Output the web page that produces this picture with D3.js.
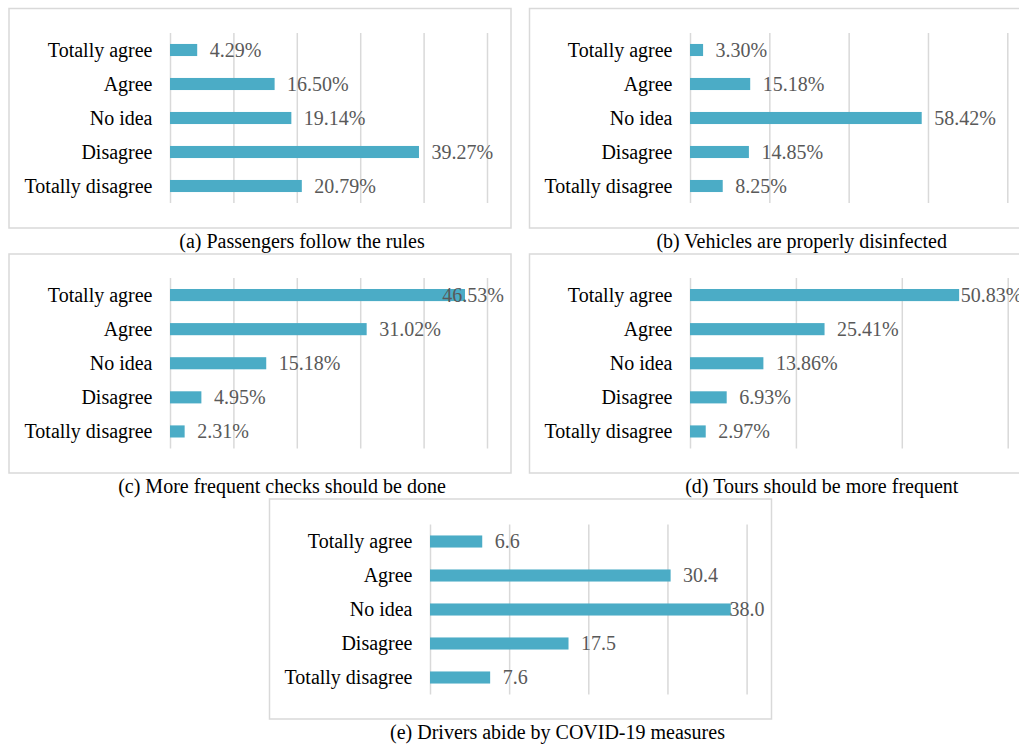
<!DOCTYPE html>
<html><head><meta charset="utf-8">
<script src="https://cdn.jsdelivr.net/npm/d3@7"></script>
<style>body{margin:0;background:#fff} svg{display:block}</style>
</head><body>
<svg id="chart" width="1019" height="746"></svg>
<script>
// ---- data ----
const categories = ["Totally agree", "Agree", "No idea", "Disagree", "Totally disagree"];
const valuesA = [4.29, 16.50, 19.14, 39.27, 20.79];
const valuesB = [3.30, 15.18, 58.42, 14.85, 8.25];
const valuesC = [46.53, 31.02, 15.18, 4.95, 2.31];
const valuesD = [50.83, 25.41, 13.86, 6.93, 2.97];
const valuesE = [6.6, 30.4, 38.0, 17.5, 7.6];
const ticksA = [0, 10, 20, 30, 40, 50];
const ticksB = [0, 20, 40, 60, 80];
const ticksC = [0, 10, 20, 30, 40, 50];
const ticksD = [0, 20, 40, 60];
const ticksE = [0, 10, 20, 30, 40];
const captions = [
  "(a) Passengers follow the rules",
  "(b) Vehicles are properly disinfected",
  "(c) More frequent checks should be done",
  "(d) Tours should be more frequent",
  "(e) Drivers abide by COVID-19 measures"
];
const percentFmt = v => v.toFixed(2) + "%";
const plainFmt = v => v.toFixed(1);

// ---- layout (positions/styles) ----
const layout = [
  {frame: [9, 8.5, 502, 219.5],    plot: [170, 487, 33, 203],    cap: [302, 248]},
  {frame: [529.5, 8.5, 500, 219.5], plot: [690, 1007.3, 33, 203], cap: [801.7, 248]},
  {frame: [9, 254, 502, 219],      plot: [170, 487, 278, 448.5],  cap: [282, 492.7]},
  {frame: [529.5, 254, 500, 219],  plot: [690, 1007.7, 278, 448.5], cap: [821.8, 492.7]},
  {frame: [269.5, 499, 502, 220],  plot: [430, 746.6, 524.5, 694.5], cap: [557.5, 739]}
];
const panels = [
  {values: valuesA, ticks: ticksA, fmt: percentFmt},
  {values: valuesB, ticks: ticksB, fmt: percentFmt},
  {values: valuesC, ticks: ticksC, fmt: percentFmt},
  {values: valuesD, ticks: ticksD, fmt: percentFmt},
  {values: valuesE, ticks: ticksE, fmt: plainFmt}
];

const FONT = "'Liberation Serif', 'Times New Roman', serif";
const BAR = "#4BACC6", GRID = "#D9D9D9";
const svg = d3.select("#chart");

panels.forEach((p, i) => {
  const L = layout[i];
  const g = svg.append("g");
  const [fx, fy, fw, fh] = L.frame;
  g.append("rect").attr("x", fx).attr("y", fy).attr("width", fw).attr("height", fh)
    .attr("fill", "#fff").attr("stroke", GRID).attr("stroke-width", 1.5);

  const [x0, x1, y0, y1] = L.plot;
  const x = d3.scaleLinear().domain([0, d3.max(p.ticks)]).range([x0, x1]);
  const y = d3.scaleBand().domain(categories).range([y0, y1]).paddingInner(0.645).paddingOuter(0.3225);

  // gridlines via axis
  const axis = d3.axisBottom(x).tickValues(p.ticks).tickSize(-(y1 - y0)).tickFormat("");
  const ga = g.append("g").attr("transform", `translate(0,${y1})`).call(axis);
  ga.select(".domain").remove();
  ga.selectAll(".tick line").attr("stroke", GRID).attr("stroke-width", 1.5);

  // bars
  g.selectAll("rect.bar").data(p.values).enter().append("rect").attr("class", "bar")
    .attr("x", x(0)).attr("y", (d, k) => y(categories[k]))
    .attr("width", d => x(d) - x(0)).attr("height", y.bandwidth())
    .attr("fill", BAR);

  // category labels
  g.selectAll("text.cat").data(categories).enter().append("text").attr("class", "cat")
    .attr("x", x0 - 17.5).attr("y", d => y(d) + y.bandwidth() / 2).attr("dy", "0.34em")
    .attr("text-anchor", "end").attr("font-family", FONT).attr("font-size", 20)
    .attr("fill", "#000").text(d => d);

  // value labels
  const clampRight = fx + fw - 7;
  g.selectAll("text.val").data(p.values).enter().append("text").attr("class", "val")
    .attr("y", (d, k) => y(categories[k]) + y.bandwidth() / 2).attr("dy", "0.34em")
    .attr("font-family", FONT).attr("font-size", 20).attr("fill", "#595959")
    .text(d => p.fmt(d))
    .each(function(d) {
      const w = this.getComputedTextLength();
      let tx = x(d) + 12.5;
      if (tx + w > clampRight) tx = clampRight - w;
      d3.select(this).attr("x", tx);
    });

  // caption
  svg.append("text").attr("x", L.cap[0]).attr("y", L.cap[1]).attr("text-anchor", "middle")
    .attr("font-family", FONT).attr("font-size", 20).attr("fill", "#000").text(captions[i]);
});
</script>
</body></html>
